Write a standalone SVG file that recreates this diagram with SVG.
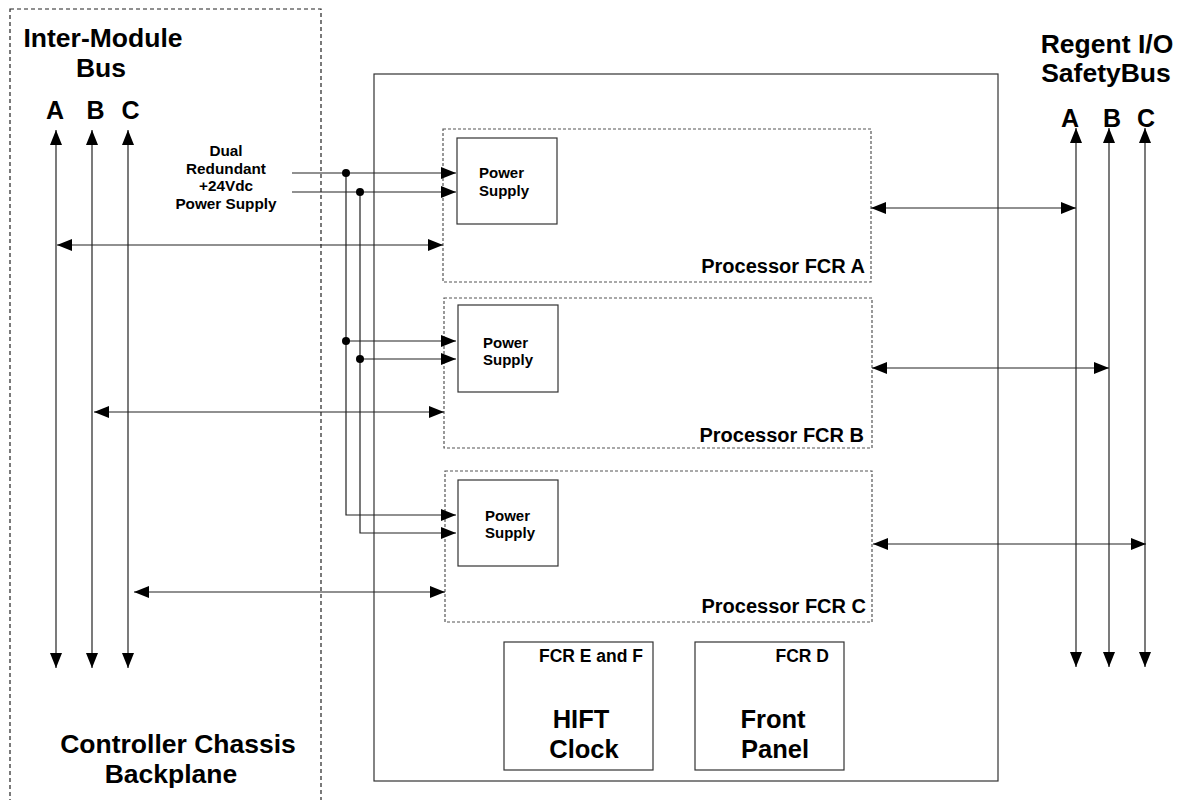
<svg xmlns="http://www.w3.org/2000/svg" width="1182" height="800" viewBox="0 0 1182 800">
<defs>
<marker id="arr" viewBox="0 0 15 12" refX="15" refY="6" markerWidth="15" markerHeight="12" markerUnits="userSpaceOnUse" orient="auto-start-reverse">
<path d="M0,0 L15,6 L0,12 z" fill="#000"/>
</marker>
<style>
text{font-family:"Liberation Sans",Arial,sans-serif;font-weight:bold;fill:#000}
.ln{stroke:#222;stroke-width:1.2;fill:none}
.bi{marker-start:url(#arr);marker-end:url(#arr)}
.one{marker-end:url(#arr)}
.box{fill:none;stroke:#333;stroke-width:1.2}
.dbox{fill:none;stroke:#555;stroke-width:1.2;stroke-dasharray:3,2}
.big{font-size:26.5px}
.mod{font-size:25.5px}
.lbl{font-size:25px}
.proc{font-size:20px;text-anchor:end}
.ps{font-size:15px}
.sm{font-size:15.3px;text-anchor:middle}
.fcr{font-size:17.5px;text-anchor:end}
.mid{text-anchor:middle}
</style>
</defs>

<g id="backplane">
<rect x="10" y="9" width="311" height="800" fill="none" stroke="#222" stroke-width="1.2" stroke-dasharray="4,3"/>
<text class="big mid" x="103" y="47">Inter-Module</text>
<text class="big mid" x="101" y="77">Bus</text>
<text class="lbl mid" x="55" y="119">A</text>
<text class="lbl mid" x="95.5" y="119">B</text>
<text class="lbl mid" x="130.5" y="119">C</text>
<text class="big mid" x="178" y="753">Controller Chassis</text>
<text class="big mid" x="171" y="783">Backplane</text>
</g>

<g id="safetybus-label">
<text class="big mid" x="1107" y="53">Regent I/O</text>
<text class="big mid" x="1106" y="82">SafetyBus</text>
<text class="lbl mid" x="1070" y="127">A</text>
<text class="lbl mid" x="1112" y="127">B</text>
<text class="lbl mid" x="1146" y="127">C</text>
</g>

<g id="power-label">
<text class="sm" x="226" y="156">Dual</text>
<text class="sm" x="226" y="173.5">Redundant</text>
<text class="sm" x="226" y="191">+24Vdc</text>
<text class="sm" x="226" y="208.5">Power Supply</text>
</g>

<g id="chassis">
<rect class="box" x="374" y="74" width="624" height="707"/>
</g>

<g id="fcr-a">
<rect class="dbox" x="443" y="129" width="428" height="153"/>
<text class="proc" x="865" y="273">Processor FCR A</text>
</g>
<g id="ps-a">
<rect class="box" x="457" y="138" width="100" height="86"/>
<text class="ps" x="479" y="178">Power</text>
<text class="ps" x="479" y="195.5">Supply</text>
</g>

<g id="fcr-b">
<rect class="dbox" x="444" y="298" width="428" height="150"/>
<text class="proc" x="864" y="442">Processor FCR B</text>
</g>
<g id="ps-b">
<rect class="box" x="458" y="305" width="100" height="87"/>
<text class="ps" x="483" y="348">Power</text>
<text class="ps" x="483" y="365">Supply</text>
</g>

<g id="fcr-c">
<rect class="dbox" x="445" y="471" width="427" height="151"/>
<text class="proc" x="866" y="613">Processor FCR C</text>
</g>
<g id="ps-c">
<rect class="box" x="458" y="480" width="100" height="86"/>
<text class="ps" x="485" y="521">Power</text>
<text class="ps" x="485" y="538">Supply</text>
</g>

<g id="hift">
<rect class="box" x="504" y="642" width="149" height="128"/>
<text class="fcr" x="643" y="662">FCR E and F</text>
<text class="mod mid" x="581" y="728">HIFT</text>
<text class="mod mid" x="584" y="758">Clock</text>
</g>

<g id="front-panel">
<rect class="box" x="695" y="642" width="149" height="128"/>
<text class="fcr" x="829" y="662">FCR D</text>
<text class="mod mid" x="773" y="728">Front</text>
<text class="mod mid" x="775" y="758">Panel</text>
</g>

<g id="connectors">
<!-- Inter-module bus -->
<line class="ln bi" x1="56" y1="130" x2="56" y2="668"/>
<line class="ln bi" x1="92" y1="130" x2="92" y2="668"/>
<line class="ln bi" x1="128" y1="130" x2="128" y2="668"/>
<!-- SafetyBus -->
<line class="ln bi" x1="1076" y1="128" x2="1076" y2="667"/>
<line class="ln bi" x1="1109" y1="128" x2="1109" y2="667"/>
<line class="ln bi" x1="1145" y1="128" x2="1145" y2="667"/>
<!-- bus to processors -->
<line class="ln bi" x1="57" y1="245" x2="443" y2="245"/>
<line class="ln bi" x1="94" y1="412" x2="444" y2="412"/>
<line class="ln bi" x1="134" y1="592" x2="445" y2="592"/>
<line class="ln bi" x1="871" y1="208" x2="1076" y2="208"/>
<line class="ln bi" x1="872" y1="368" x2="1109" y2="368"/>
<line class="ln bi" x1="873" y1="544" x2="1146" y2="544"/>
<!-- power feeds -->
<line class="ln one" x1="292" y1="173" x2="456" y2="173"/>
<line class="ln one" x1="292" y1="192" x2="456" y2="192"/>
<polyline class="ln one" points="346,173 346,515 456,515"/>
<polyline class="ln one" points="360,192 360,533 456,533"/>
<line class="ln one" x1="346" y1="341" x2="456" y2="341"/>
<line class="ln one" x1="360" y1="359" x2="456" y2="359"/>
<circle cx="346" cy="173" r="4" fill="#000"/>
<circle cx="360" cy="192" r="4" fill="#000"/>
<circle cx="346" cy="341" r="4" fill="#000"/>
<circle cx="360" cy="359" r="4" fill="#000"/>
</g>
</svg>
